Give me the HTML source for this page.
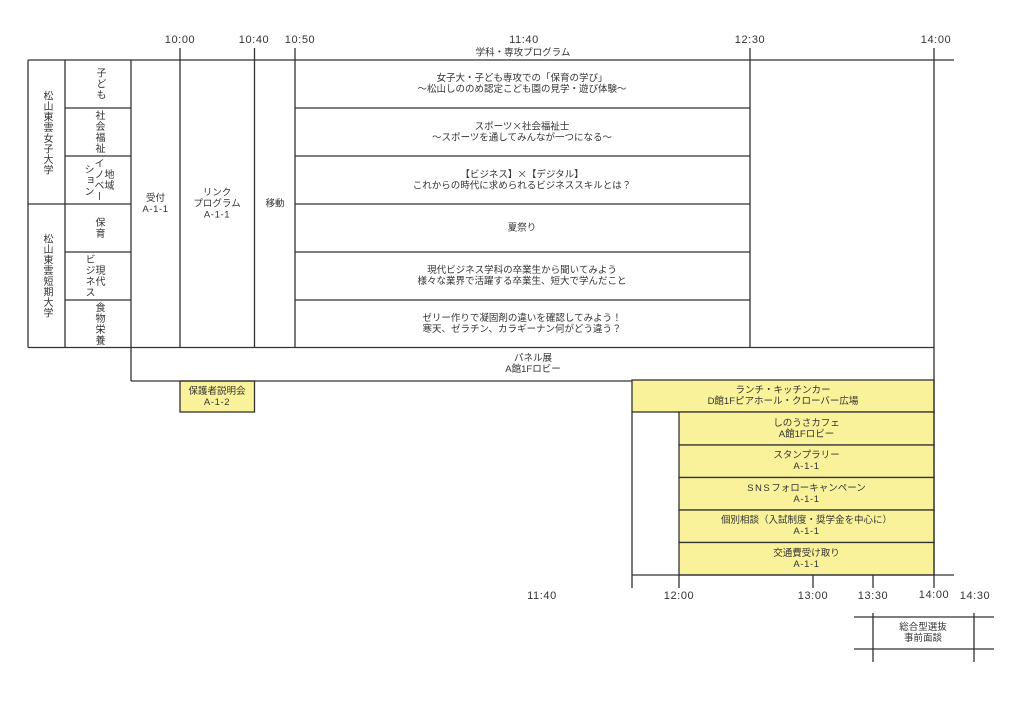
<!DOCTYPE html>
<html><head><meta charset="utf-8">
<style>
html,body{margin:0;padding:0;background:#fff;}
#c{position:relative;width:1024px;height:724px;overflow:hidden;background:#fff;font-family:"Liberation Sans","Noto Sans CJK JP",sans-serif;color:#333;}
svg{position:absolute;left:0;top:0;}
.t{position:absolute;transform:translate(-50%,-50%);white-space:nowrap;text-align:center;font-size:9.5px;line-height:11px;}
.tm{position:absolute;transform:translate(-50%,-50%);white-space:nowrap;font-size:11px;letter-spacing:0.6px;line-height:12px;color:#333;}
.v{position:absolute;transform:translate(-50%,-50%);writing-mode:vertical-rl;text-align:center;font-size:10px;line-height:10px;letter-spacing:1px;white-space:nowrap;}
.a{letter-spacing:0.6px;}
.x{font-family:"Noto Sans CJK JP",sans-serif;}
</style></head><body>
<div id="c">
<svg width="1024" height="724" viewBox="0 0 1024 724">
 <g fill="#f9f29a" stroke="#333" stroke-width="1.3">
  <rect x="180" y="381" width="74.5" height="31"/>
  <rect x="632" y="380" width="302" height="32"/>
  <rect x="679" y="412" width="255" height="33"/>
  <rect x="679" y="445" width="255" height="32.5"/>
  <rect x="679" y="477.5" width="255" height="32.5"/>
  <rect x="679" y="510" width="255" height="32.5"/>
  <rect x="679" y="542.5" width="255" height="32.5"/>
 </g>
 <g stroke="#333" stroke-width="1.3" fill="none">
  <line x1="28" y1="60" x2="954" y2="60"/>
  <line x1="28" y1="60" x2="28" y2="347.5"/>
  <line x1="65" y1="60" x2="65" y2="347.5"/>
  <line x1="131" y1="60" x2="131" y2="381"/>
  <line x1="180" y1="48" x2="180" y2="347.5"/>
  <line x1="254.5" y1="48" x2="254.5" y2="347.5"/>
  <line x1="295" y1="48" x2="295" y2="347.5"/>
  <line x1="750" y1="48" x2="750" y2="347.5"/>
  <line x1="934" y1="48" x2="934" y2="588"/>
  <line x1="28" y1="347.5" x2="934" y2="347.5"/>
  <line x1="131" y1="381" x2="632" y2="381"/>
  <line x1="65" y1="108" x2="131" y2="108"/>
  <line x1="65" y1="156" x2="131" y2="156"/>
  <line x1="28" y1="204" x2="131" y2="204"/>
  <line x1="65" y1="252" x2="131" y2="252"/>
  <line x1="65" y1="300" x2="131" y2="300"/>
  <line x1="295" y1="108" x2="750" y2="108"/>
  <line x1="295" y1="156" x2="750" y2="156"/>
  <line x1="295" y1="204" x2="750" y2="204"/>
  <line x1="295" y1="252" x2="750" y2="252"/>
  <line x1="295" y1="300" x2="750" y2="300"/>
  <line x1="632" y1="412" x2="632" y2="588"/>
  <line x1="679" y1="575" x2="679" y2="588"/>
  <line x1="632" y1="575" x2="954" y2="575"/>
  <line x1="813" y1="575" x2="813" y2="588"/>
  <line x1="873" y1="575" x2="873" y2="588"/>
  <line x1="854" y1="617" x2="994" y2="617"/>
  <line x1="854" y1="649" x2="994" y2="649"/>
  <line x1="873" y1="613" x2="873" y2="662"/>
  <line x1="974" y1="613" x2="974" y2="662"/>
 </g>
</svg>

<div class="tm" style="left:180px;top:40px;">10:00</div>
<div class="tm" style="left:254px;top:40px;">10:40</div>
<div class="tm" style="left:300px;top:40px;">10:50</div>
<div class="tm" style="left:524px;top:40px;">11:40</div>
<div class="tm" style="left:750px;top:40px;">12:30</div>
<div class="tm" style="left:936px;top:40px;">14:00</div>
<div class="t" style="left:523px;top:53px;">学科・専攻プログラム</div>

<div class="v" style="left:46px;top:133px;letter-spacing:0.6px;">松山東雲女子大学</div>
<div class="v" style="left:46px;top:276px;letter-spacing:0.6px;">松山東雲短期大学</div>
<div class="v" style="left:99px;top:84px;">子ども</div>
<div class="v" style="left:98px;top:132px;">社会福祉</div>
<div class="v" style="left:97px;top:180px;">地域<br>イノベー<br>ション</div>
<div class="v" style="left:98px;top:228px;">保育</div>
<div class="v" style="left:93px;top:276px;">現代<br>ビジネス</div>
<div class="v" style="left:98px;top:324px;">食物栄養</div>

<div class="t" style="left:155.5px;top:204px;">受付<br><span class="a">A-1-1</span></div>
<div class="t" style="left:217px;top:204px;">リンク<br>プログラム<br><span class="a">A-1-1</span></div>
<div class="t" style="left:275px;top:204px;">移動</div>

<div class="t" style="left:522px;top:84px;">女子大・子ども専攻での「保育の学び」<br>〜松山しののめ認定こども園の見学・遊び体験〜</div>
<div class="t" style="left:522px;top:132px;">スポーツ<span class="x">×</span>社会福祉士<br>〜スポーツを通してみんなが一つになる〜</div>
<div class="t" style="left:522px;top:180px;">【ビジネス】<span class="x">×</span>【デジタル】<br>これからの時代に求められるビジネススキルとは？</div>
<div class="t" style="left:522px;top:228px;">夏祭り</div>
<div class="t" style="left:522px;top:276px;">現代ビジネス学科の卒業生から聞いてみよう<br>様々な業界で活躍する卒業生、短大で学んだこと</div>
<div class="t" style="left:522px;top:324px;">ゼリー作りで凝固剤の違いを確認してみよう！<br>寒天、ゼラチン、カラギーナン何がどう違う？</div>

<div class="t" style="left:533px;top:364px;">パネル展<br>A館1Fロビー</div>
<div class="t" style="left:217px;top:396.5px;">保護者説明会<br><span class="a">A-1-2</span></div>

<div class="t" style="left:783px;top:396px;">ランチ・キッチンカー<br>D館1Fピアホール・クローバー広場</div>
<div class="t" style="left:806.5px;top:428.5px;">しのうさカフェ<br>A館1Fロビー</div>
<div class="t" style="left:806.5px;top:461px;">スタンプラリー<br><span class="a">A-1-1</span></div>
<div class="t" style="left:806.5px;top:494px;"><span style="letter-spacing:1.5px">SNS</span>フォローキャンペーン<br><span class="a">A-1-1</span></div>
<div class="t" style="left:806.5px;top:526px;">個別相談（入試制度・奨学金を中心に）<br><span class="a">A-1-1</span></div>
<div class="t" style="left:806.5px;top:558.5px;">交通費受け取り<br><span class="a">A-1-1</span></div>

<div class="tm" style="left:542px;top:596px;">11:40</div>
<div class="tm" style="left:679px;top:596px;">12:00</div>
<div class="tm" style="left:813px;top:596px;">13:00</div>
<div class="tm" style="left:873px;top:596px;">13:30</div>
<div class="tm" style="left:934px;top:595px;">14:00</div>
<div class="tm" style="left:975px;top:596px;">14:30</div>

<div class="t" style="left:923px;top:633px;">総合型選抜<br>事前面談</div>
</div>
</body></html>
